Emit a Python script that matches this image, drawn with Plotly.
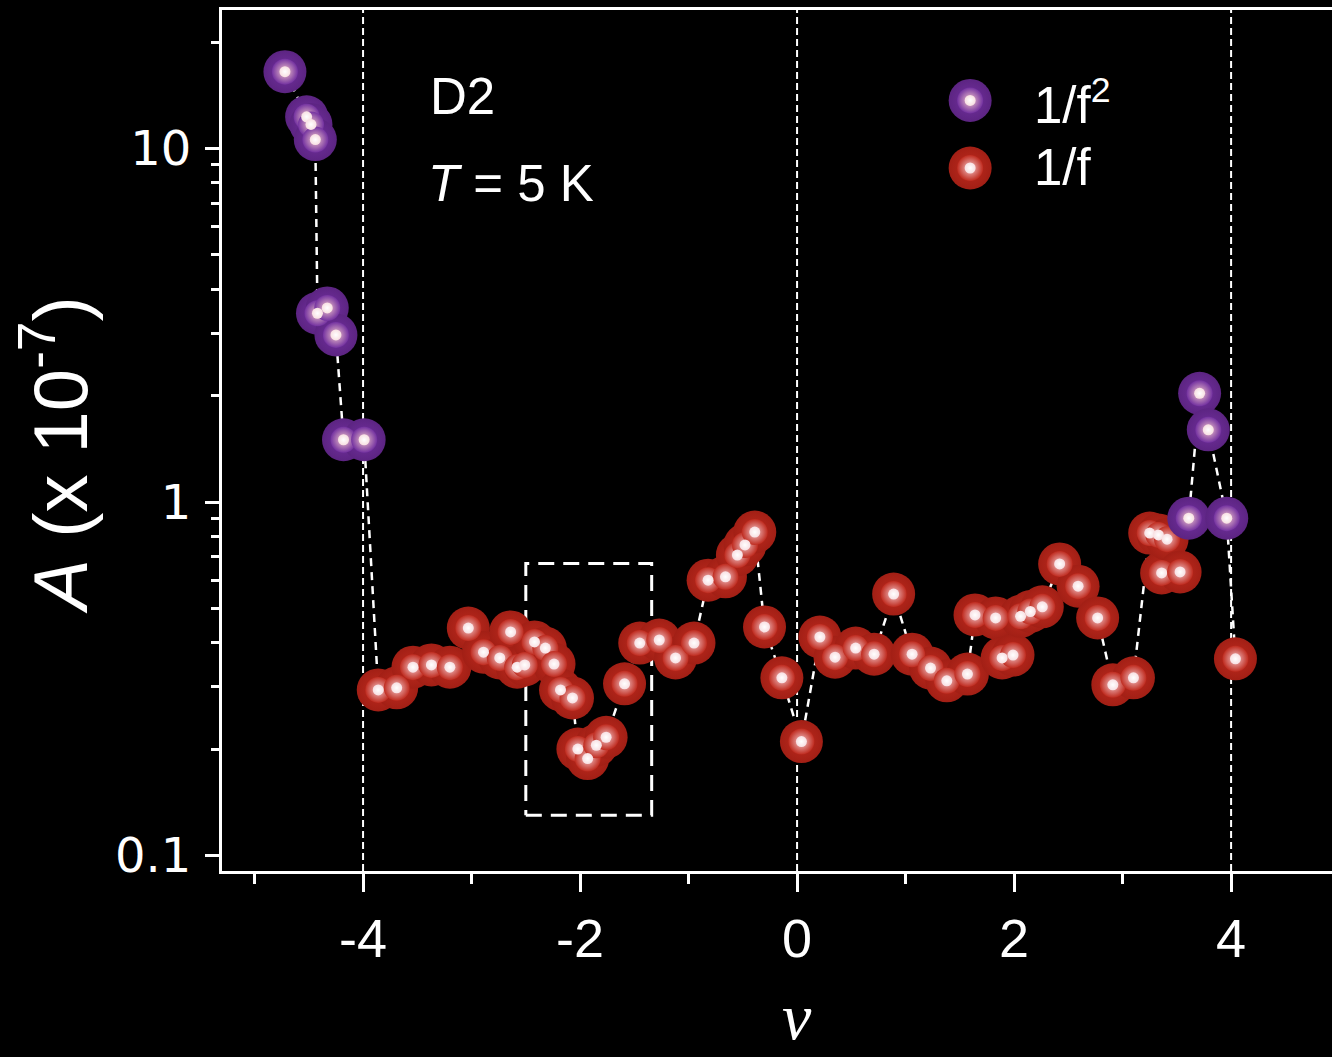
import plotly.graph_objects as go

# ---------------- data ----------------
purple_nu = [-4.72, -4.52, -4.48, -4.44, -4.42, -4.33, -4.25, -4.18, -3.99, 3.61, 3.71, 3.79, 3.96]
purple_A = [16.5, 12.3, 11.7, 10.6, 3.42, 3.54, 2.97, 1.50, 1.50, 0.90, 2.03, 1.60, 0.90]

red_nu = [-3.86, -3.69, -3.54, -3.37, -3.20, -3.03, -2.89, -2.74, -2.64, -2.58, -2.51, -2.42, -2.32,
          -2.24, -2.18, -2.07, -2.02, -1.93, -1.85, -1.76, -1.59, -1.45, -1.27, -1.12, -0.95, -0.82,
          -0.66, -0.55, -0.48, -0.39, -0.30, -0.14, 0.04, 0.21, 0.35, 0.54, 0.71, 0.89, 1.06, 1.23,
          1.38, 1.57, 1.64, 1.83, 1.89, 1.99, 2.06, 2.15, 2.26, 2.42, 2.59, 2.77, 2.91, 3.10, 3.25,
          3.33, 3.36, 3.41, 3.53, 4.04]
red_A = [0.294, 0.298, 0.341, 0.346, 0.341, 0.440, 0.376, 0.362, 0.429, 0.341, 0.346, 0.402, 0.386,
         0.348, 0.294, 0.279, 0.200, 0.188, 0.205, 0.216, 0.306, 0.399, 0.407, 0.362, 0.399, 0.601,
         0.614, 0.708, 0.756, 0.822, 0.443, 0.318, 0.210, 0.415, 0.364, 0.386, 0.371, 0.549, 0.371, 0.339,
         0.312, 0.326, 0.479, 0.470, 0.362, 0.369, 0.475, 0.490, 0.505, 0.668, 0.578, 0.470, 0.304, 0.318, 0.817,
         0.807, 0.630, 0.785, 0.634, 0.360]

ref_lines_nu = [-4, 0, 4]
box_nu = [-2.5, -1.34]
box_A = [0.13, 0.67]

x_ticks = [-4, -2, 0, 2, 4]
x_ticktext = ["-4", "-2", "0", "2", "4"]
x_minor = [-5, -3, -1, 1, 3]
y_ticks = [0.1, 1, 10]
y_ticktext = ["0.1", "1", "10"]
y_minor = [0.2, 0.3, 0.4, 0.5, 0.6, 0.7, 0.8, 0.9, 2, 3, 4, 5, 6, 7, 8, 9, 20]

legend_labels = ["1/f<sup>2</sup>", "1/f"]

RED_EDGE, RED_CENTER = "#a21f15", "#bf2b1f"
PUR_EDGE, PUR_CENTER = "#5c2482", "#7331a0"

fig = go.Figure()

# dashed connecting line through all points ordered by nu
pts = sorted(zip(purple_nu + red_nu, purple_A + red_A))
fig.add_trace(go.Scatter(x=[p[0] for p in pts], y=[p[1] for p in pts], mode="lines",
                         line=dict(color="white", width=2.5, dash="8px,6px"), hoverinfo="skip"))

# dashed rectangle
fig.add_trace(go.Scatter(x=[box_nu[0], box_nu[1], box_nu[1], box_nu[0], box_nu[0]],
                         y=[box_A[0], box_A[0], box_A[1], box_A[1], box_A[0]], mode="lines",
                         line=dict(color="white", width=3, dash="16px,9px"), hoverinfo="skip"))


def balls(x, y, edge, center, xaxis="x", yaxis="y"):
    fig.add_trace(go.Scatter(x=x, y=y, mode="markers", xaxis=xaxis, yaxis=yaxis,
                             marker=dict(size=43, color=edge, line=dict(width=0),
                                         gradient=dict(type="radial", color=center))))
    fig.add_trace(go.Scatter(x=x, y=y, mode="markers", xaxis=xaxis, yaxis=yaxis,
                             marker=dict(size=26, color=center, line=dict(width=0),
                                         gradient=dict(type="radial", color="#f4c8cc"))))
    fig.add_trace(go.Scatter(x=x, y=y, mode="markers", xaxis=xaxis, yaxis=yaxis,
                             marker=dict(size=11, color="#f8dfe2", line=dict(width=0),
                                         gradient=dict(type="radial", color="white"))))


balls(red_nu, red_A, RED_EDGE, RED_CENTER)
balls(purple_nu, purple_A, PUR_EDGE, PUR_CENTER)

# legend markers on an overlay axis in fractional coordinates
leg_x = [0.674, 0.674]
leg_y = [0.895, 0.8165]
balls([leg_x[0]], [leg_y[0]], PUR_EDGE, PUR_CENTER, "x2", "y2")
balls([leg_x[1]], [leg_y[1]], RED_EDGE, RED_CENTER, "x2", "y2")

for v in ref_lines_nu:
    fig.add_shape(type="line", x0=v, x1=v, y0=0, y1=1, xref="x", yref="paper", layer="below",
                  line=dict(color="white", width=2, dash="7px,4px"))

axis_common = dict(showgrid=False, zeroline=False, showline=True, linecolor="white", linewidth=3,
                   ticks="outside", tickcolor="white", tickwidth=3)

fig.update_layout(
    width=1332, height=1057,
    paper_bgcolor="black", plot_bgcolor="black",
    margin=dict(l=222, r=0, t=10, b=186),
    showlegend=False,
    xaxis=dict(range=[-5.30, 4.93], tickmode="array", tickvals=x_ticks, ticktext=x_ticktext, ticklen=18,
               tickfont=dict(family="Liberation Sans, Arial", size=54, color="white"),
               ticklabelstandoff=0, mirror=True,
               minor=dict(tickvals=x_minor, ticklen=10, tickwidth=3, tickcolor="white", ticks="outside"),
               **axis_common),
    yaxis=dict(type="log", range=[-1.044, 1.392], tickmode="array", tickvals=y_ticks,
               ticktext=y_ticktext, ticklen=14,
               tickfont=dict(family="DejaVu Sans", size=48, color="white"),
               ticklabelstandoff=4,
               minor=dict(tickvals=y_minor, ticklen=8, tickwidth=3, tickcolor="white", ticks="outside"),
               **axis_common),
    xaxis2=dict(overlaying="x", range=[0, 1], visible=False),
    yaxis2=dict(overlaying="y", range=[0, 1], visible=False),
)

ann_font = dict(family="Liberation Sans, Arial", size=51, color="white")
fig.add_annotation(text="D2", xref="paper", yref="paper", x=0.186, y=0.899,
                   xanchor="left", yanchor="middle", showarrow=False, font=ann_font)
fig.add_annotation(text="<i>T</i> = 5 K", xref="paper", yref="paper", x=0.184, y=0.799,
                   xanchor="left", yanchor="middle", showarrow=False, font=ann_font)
fig.add_annotation(text=legend_labels[0], xref="paper", yref="paper", x=0.730, y=0.893,
                   xanchor="left", yanchor="middle", showarrow=False, font=ann_font)
fig.add_annotation(text=legend_labels[1], xref="paper", yref="paper", x=0.730, y=0.8165,
                   xanchor="left", yanchor="middle", showarrow=False, font=ann_font)
fig.add_annotation(text="<i>ν</i>", xref="x", yref="paper", x=0, y=-0.1685,
                   xanchor="center", yanchor="middle", showarrow=False,
                   font=dict(family="Liberation Serif, Times New Roman", size=66, color="white"))
fig.add_annotation(text="<i>A</i> (x 10<sup>-7</sup>)", xref="paper", yref="paper", x=-0.150, y=0.483,
                   xanchor="center", yanchor="middle", textangle=-90, showarrow=False,
                   font=dict(family="Liberation Sans, Arial", size=76, color="white"))

fig.write_html("out.html")
